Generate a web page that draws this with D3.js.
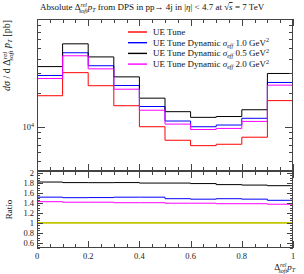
<!DOCTYPE html>
<meta charset="utf-8">
<style>
  body { margin: 0; background: white; }
  svg { display: block; font-family: "Liberation Serif", "DejaVu Serif", serif; }
  .tick-label { font-size: 8.5px; fill: #222; }
</style>
<svg width="304" height="274"></svg>
<script src="https://cdn.jsdelivr.net/npm/d3@7/dist/d3.min.js"></script>
<script>

// data: bin edges in Delta^rel_soft pT, cross sections in pb
var binEdges = [0, 0.1, 0.2, 0.3, 0.4, 0.5, 0.6, 0.7, 0.8, 0.9, 1.0];
var ueTune     = [19000, 30400, 23300, 15500, 10100, 7670, 6870, 7070, 8160, 17200];
var dynamic10  = [28700, 45600, 35000, 23400, 15250, 11350, 10100, 10460, 12000, 24900];
var dynamic05  = [34400, 54700, 41900, 27900, 18080, 13730, 12230, 12440, 14280, 29900];
var dynamic20  = [26980, 42860, 32850, 21700, 14140, 10660, 9550, 9760, 11260, 23560];
var seriesNames = ["UE Tune", "UE Tune Dynamic", "UE Tune Dynamic", "UE Tune Dynamic"];
var seriesScales = ["", "1.0", "0.5", "2.0"];
var xTickValues = [0, 0.2, 0.4, 0.6, 0.8, 1];
var ratioTickValues = [0.6, 0.8, 1, 1.2, 1.4, 1.6, 1.8, 2];

var series = [
  {name: seriesNames[0], scale: seriesScales[0], values: ueTune,    color: "#ff0000"},
  {name: seriesNames[1], scale: seriesScales[1], values: dynamic10, color: "#0000ff"},
  {name: seriesNames[2], scale: seriesScales[2], values: dynamic05, color: "#000000"},
  {name: seriesNames[3], scale: seriesScales[3], values: dynamic20, color: "#ff00ff"}
];

var svg = d3.select("svg");

// panel geometry
var left = 37, right = 293;
var mainTop = 19, mainBottom = 171;
var ratioTop = 171, ratioBottom = 248;

var x = d3.scaleLinear().domain([0, 1]).range([left, right]);
var y = d3.scaleLog().domain([4100, 90700]).range([mainBottom, mainTop]);
var yr = d3.scaleLinear().domain([0.5, 2.03]).range([ratioBottom, ratioTop]);

// step path from bin values
function stepPoints(vals) {
  var pts = [];
  vals.forEach(function(v, i) {
    pts.push([binEdges[i], v]);
    pts.push([binEdges[i + 1], v]);
  });
  return pts;
}

var mainLine = d3.line().x(function(d) { return x(d[0]); }).y(function(d) { return y(d[1]); });
var ratioLine = d3.line().x(function(d) { return x(d[0]); }).y(function(d) { return yr(d[1]); });

// clip
svg.append("clipPath").attr("id", "clipMain")
  .append("rect").attr("x", left).attr("y", mainTop).attr("width", right - left).attr("height", mainBottom - mainTop);

// histograms
var gMain = svg.append("g").attr("clip-path", "url(#clipMain)");
series.forEach(function(s) {
  gMain.append("path")
    .attr("d", mainLine(stepPoints(s.values)))
    .attr("fill", "none")
    .attr("stroke", s.color)
    .attr("stroke-width", 1);
});

// ratio panel: reference line then others
svg.append("path")
  .attr("d", ratioLine(stepPoints(ueTune.map(function(v) { return v / v; }))))
  .attr("fill", "none")
  .attr("stroke", "#c4c400")
  .attr("stroke-width", 1.6);

series.slice(1).forEach(function(s) {
  var r = s.values.map(function(v, i) { return v / ueTune[i]; });
  svg.append("path")
    .attr("d", ratioLine(stepPoints(r)))
    .attr("fill", "none")
    .attr("stroke", s.color)
    .attr("stroke-width", 1);
});

// frames
function frame(t, b) {
  svg.append("rect")
    .attr("x", left + 0.5).attr("y", t + 0.5)
    .attr("width", right - left - 1).attr("height", b - t - 1)
    .attr("fill", "none").attr("stroke", "#444").attr("stroke-width", 1);
}
frame(mainTop, mainBottom);
frame(ratioTop, ratioBottom);

// generic tick drawing
function hTicks(vals, yy, len, dir) {
  vals.forEach(function(v) {
    var xx = Math.round(x(v)) + 0.5;
    svg.append("line").attr("x1", xx).attr("x2", xx)
      .attr("y1", yy).attr("y2", yy + dir * len)
      .attr("stroke", "#444").attr("stroke-width", 1);
  });
}
function vTicks(scale, vals, len) {
  vals.forEach(function(v) {
    var yy = Math.round(scale(v)) + 0.5;
    svg.append("line").attr("x1", left).attr("x2", left + len).attr("y1", yy).attr("y2", yy)
      .attr("stroke", "#444").attr("stroke-width", 1);
    svg.append("line").attr("x1", right).attr("x2", right - len).attr("y1", yy).attr("y2", yy)
      .attr("stroke", "#444").attr("stroke-width", 1);
  });
}

var xMinor = d3.range(0, 21).map(function(i) { return i * 0.05; }).filter(function(v) {
  return Math.abs(v * 5 - Math.round(v * 5)) > 1e-6;
});
[[mainTop, 1], [mainBottom, -1], [ratioTop, 1], [ratioBottom, -1]].forEach(function(p) {
  hTicks(xMinor, p[0], 4, p[1]);
  hTicks(xTickValues, p[0], 7, p[1]);
});

// log ticks on main
var logMinor = [];
[1000, 10000].forEach(function(dec) {
  for (var k = 2; k <= 9; k++) if (k * dec >= 4100 && k * dec <= 90700) logMinor.push(k * dec);
});
vTicks(y, logMinor, 4);
vTicks(y, [10000], 8);

// ratio ticks
var ratioMinor = d3.range(0, 31).map(function(i) { return 0.5 + i * 0.05; }).filter(function(v) {
  return v < 2.03 && Math.abs(v * 5 - Math.round(v * 5)) > 1e-6;
});
vTicks(yr, ratioMinor, 3);
vTicks(yr, ratioTickValues, 6);

// tick labels
svg.selectAll(".xl").data(xTickValues).enter().append("text")
  .attr("class", "tick-label")
  .attr("x", function(d) { return x(d); })
  .attr("y", 259)
  .attr("text-anchor", "middle")
  .text(function(d) { return d; });

svg.selectAll(".rl").data(ratioTickValues).enter().append("text")
  .attr("class", "tick-label")
  .attr("x", 34)
  .attr("y", function(d) { return yr(d) + 3; })
  .attr("text-anchor", "end")
  .text(function(d) { return d; });

var t4 = svg.append("text").attr("class", "tick-label")
  .attr("x", 34).attr("y", y(10000) + 3).attr("text-anchor", "end");
t4.append("tspan").text("10");
t4.append("tspan").attr("dy", -3.5).attr("font-size", "6px").text("4");

// title
var title = svg.append("text").attr("x", 40).attr("y", 10).attr("font-size", "9px").attr("fill", "#111");
title.append("tspan").text("Absolute Δ");
title.append("tspan").attr("dy", -3.5).attr("font-size", "6px").attr("font-style", "italic").text("rel");
title.append("tspan").attr("dy", 6).attr("dx", -8).attr("font-size", "6px").attr("font-style", "italic").text("soft");
title.append("tspan").attr("dy", -2.5).attr("font-style", "italic").text("p");
title.append("tspan").attr("dy", 1.5).attr("font-size", "6px").attr("font-style", "italic").text("T");
title.append("tspan").attr("dy", -1.5).text(" from DPS in pp→ 4j in |");
title.append("tspan").attr("font-style", "italic").text("η");
title.append("tspan").text("| < 4.7 at √");
title.append("tspan").attr("font-style", "italic").attr("text-decoration", "overline").text("s");
title.append("tspan").text(" = 7 TeV");

// y label
var yl = svg.append("text")
  .attr("transform", "translate(10," + (mainTop + 1) + ") rotate(-90)")
  .attr("text-anchor", "end").attr("font-size", "10px").attr("fill", "#111");
yl.append("tspan").attr("font-style", "italic").text("dσ");
yl.append("tspan").text("  / d Δ");
yl.append("tspan").attr("dy", -3.5).attr("font-size", "7px").attr("font-style", "italic").text("rel");
yl.append("tspan").attr("dy", 6).attr("dx", -9).attr("font-size", "7px").attr("font-style", "italic").text("soft");
yl.append("tspan").attr("dy", -2.5).attr("font-style", "italic").text(" p");
yl.append("tspan").attr("dy", 1.5).attr("font-size", "7px").attr("font-style", "italic").text("T");
yl.append("tspan").attr("dy", -1.5).text("  [pb]");

svg.append("text")
  .attr("transform", "translate(12," + ((ratioTop + ratioBottom) / 2) + ") rotate(-90)")
  .attr("text-anchor", "middle").attr("font-size", "9px").attr("fill", "#111")
  .text("Ratio");

// x label
var xl = svg.append("text").attr("x", 295).attr("y", 270).attr("text-anchor", "end")
  .attr("font-size", "9px").attr("fill", "#111");
xl.append("tspan").text("Δ");
xl.append("tspan").attr("dy", -3.5).attr("font-size", "6px").attr("font-style", "italic").text("rel");
xl.append("tspan").attr("dy", 6).attr("dx", -8).attr("font-size", "6px").attr("font-style", "italic").text("soft");
xl.append("tspan").attr("dy", -2.5).attr("font-style", "italic").text("p");
xl.append("tspan").attr("dy", 1.5).attr("font-size", "6px").attr("font-style", "italic").text("T");

// legend
var legend = svg.append("g").attr("font-size", "9px").attr("fill", "#111");
series.forEach(function(s, i) {
  var ly = 32 + i * 10.7;
  legend.append("line")
    .attr("x1", 128).attr("x2", 147).attr("y1", ly).attr("y2", ly)
    .attr("stroke", s.color).attr("stroke-width", 1.4);
  var tx = legend.append("text").attr("x", 153).attr("y", ly + 3);
  tx.append("tspan").text(s.name);
  if (s.scale) {
    tx.append("tspan").attr("font-style", "italic").text(" σ");
    tx.append("tspan").attr("dy", 2).attr("font-size", "6px").attr("font-style", "italic").text("eff");
    tx.append("tspan").attr("dy", -2).text(" " + s.scale + " GeV");
    tx.append("tspan").attr("dy", -3.5).attr("font-size", "6px").text("2");
  }
});

</script>
